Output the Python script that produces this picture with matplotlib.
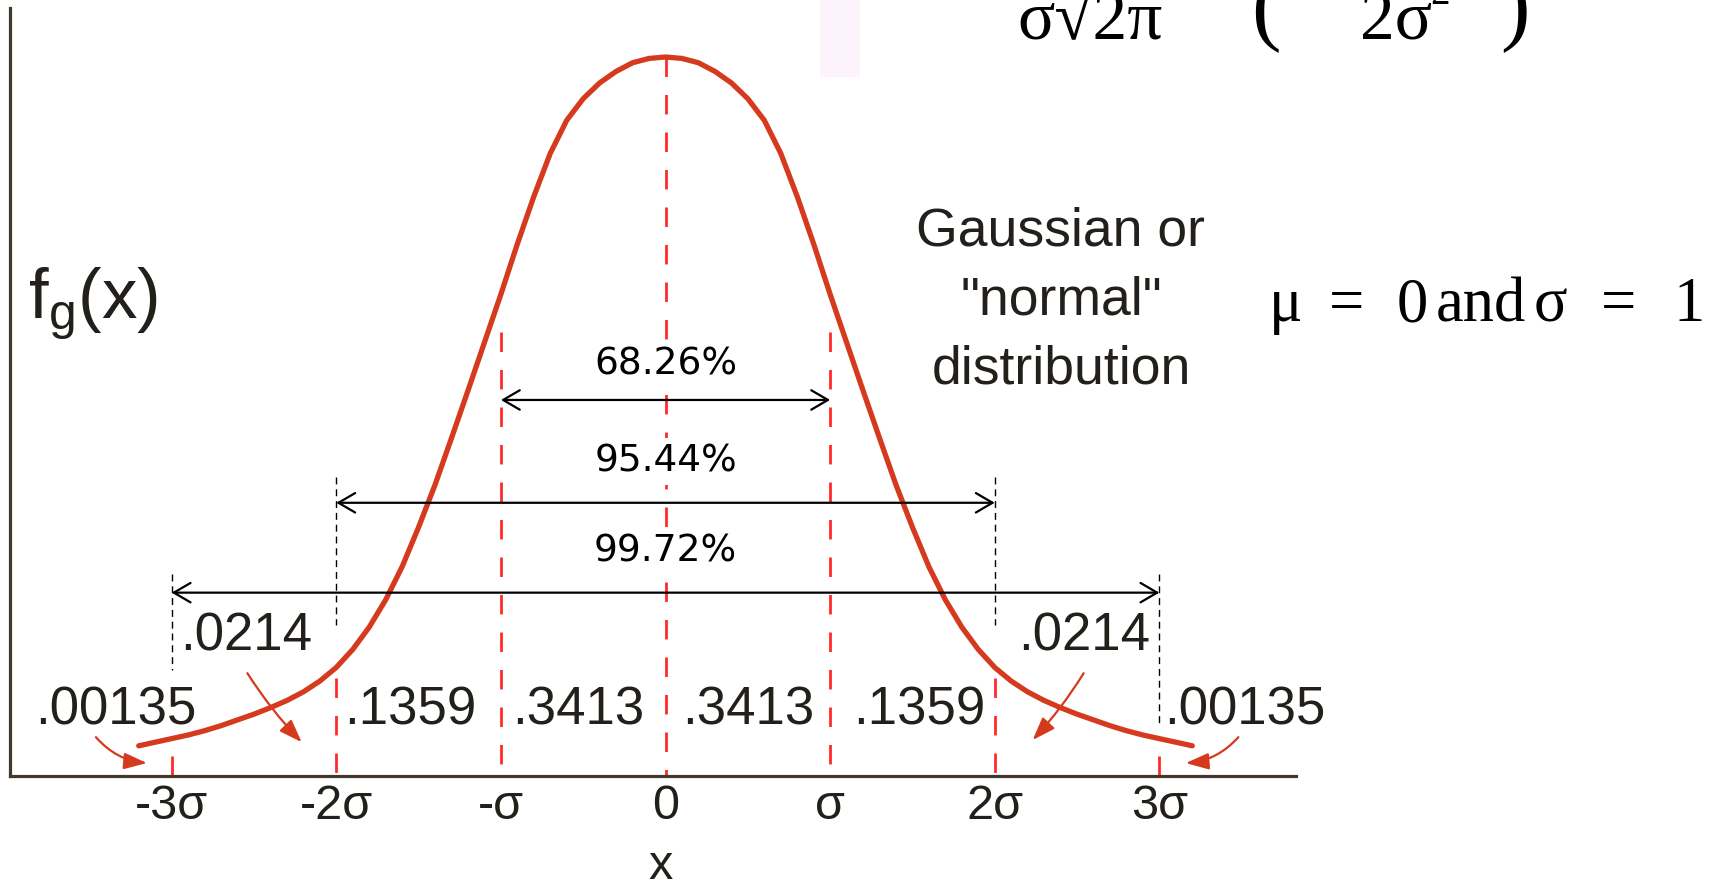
import matplotlib
matplotlib.use('Agg')
import matplotlib.pyplot as plt
from matplotlib.patches import FancyArrowPatch, Rectangle

# bell curve read in sigma units, height relative to the peak
curve_x = [-3.2, -3.1, -3.0, -2.9, -2.8, -2.7, -2.6, -2.5, -2.4, -2.3, -2.2, -2.1, -2.0, -1.9, -1.8, -1.7,
           -1.6, -1.5, -1.4, -1.3, -1.2, -1.1, -1.0, -0.9, -0.8, -0.7, -0.6, -0.5, -0.4, -0.3, -0.2, -0.1,
           0.0,
           0.1, 0.2, 0.3, 0.4, 0.5, 0.6, 0.7, 0.8, 0.9, 1.0, 1.1, 1.2, 1.3, 1.4, 1.5, 1.6,
           1.7, 1.8, 1.9, 2.0, 2.1, 2.2, 2.3, 2.4, 2.5, 2.6, 2.7, 2.8, 2.9, 3.0, 3.1, 3.2]
curve_y = [0.042, 0.047, 0.052, 0.057, 0.063, 0.070, 0.078, 0.086, 0.095, 0.105, 0.117, 0.132, 0.151, 0.176, 0.207, 0.245,
           0.291, 0.346, 0.405, 0.470, 0.536, 0.603, 0.670, 0.740, 0.806, 0.866, 0.912, 0.942, 0.964, 0.980, 0.992, 0.998,
           1.000,
           0.998, 0.992, 0.980, 0.964, 0.942, 0.912, 0.866, 0.806, 0.740, 0.670, 0.603, 0.536, 0.470, 0.405, 0.346, 0.291,
           0.245, 0.207, 0.176, 0.151, 0.132, 0.117, 0.105, 0.095, 0.086, 0.078, 0.070, 0.063, 0.057, 0.052, 0.047, 0.042]

tick_pos    = [-3, -2, -1, 0, 1, 2, 3]
tick_labels = ['-3σ', '-2σ', '-σ', '0', 'σ', '2σ', '3σ']
guide_top   = [0.028, 0.136, 0.617, 1.0, 0.617, 0.136, 0.028]

span_sigma  = [1, 2, 3]
span_labels = ['68.26%', '95.44%', '99.72%']

band_labels = ['.00135', '.1359', '.3413', '.3413', '.1359', '.00135']
tail_labels = ['.0214', '.0214']

#################################################

W, H   = 1714, 886
SANS   = ['Liberation Sans', 'DejaVu Sans']
SERIF  = ['Liberation Serif', 'DejaVu Serif']
CURVE  = '#d63a1e'
GUIDE  = '#ff2a2a'
INK    = '#231f1a'

plt.rcParams['mathtext.fontset'] = 'custom'
plt.rcParams['mathtext.rm'] = 'Liberation Sans'


def fpos(x, y):
    # pixel position (from top-left) -> figure fraction
    return x / W, 1 - y / H


fig = plt.figure(figsize=(W / 100, H / 100), dpi=100)
ax = fig.add_axes([10 / W, 110 / H, 1286 / W, 768 / H])
ax.set_xlim(-3.982, 3.830)
ax.set_ylim(0, 768 / 719)

for s in ('top', 'right'):
    ax.spines[s].set_visible(False)
for s in ('left', 'bottom'):
    ax.spines[s].set_color('#43382e')
    ax.spines[s].set_linewidth(2.3)

ax.set_yticks([])
ax.set_xticks(tick_pos, tick_labels)
for t in ax.get_xticklabels():
    t.set_family(SANS)
    t.set_fontsize(35)
    t.set_color(INK)
ax.tick_params(axis='x', length=0, pad=6)
ax.set_xlabel('x', fontsize=35, family=SANS, color=INK)
ax.xaxis.set_label_coords((661 - 10) / 1286, (776 - 879) / 768)
ax.xaxis.label.set_va('baseline')

# curve
ax.plot(curve_x, curve_y, color=CURVE, lw=3.8, solid_joinstyle='round', solid_capstyle='round', zorder=4)

# red guides from the curve down to the axis
for x, top in zip(tick_pos, guide_top):
    ax.plot([x, x], [top, 0], color=GUIDE, lw=2.0, ls=(0, (7, 6.5)), zorder=2)

# black extension lines for the wider spans
ext = [(-2, 0.416, 0.21), (2, 0.416, 0.21), (-3, 0.281, 0.147), (3, 0.281, 0.071)]
for x, y0, y1 in ext:
    ax.plot([x, x], [y0, y1], color='black', lw=1.0, ls=(0, (5, 3.5)), zorder=2)

# spans with percentages
arrow_y = [0.523, 0.380, 0.255]
text_y  = [0.558, 0.423, 0.298]
for s, lab, ya, yt in zip(span_sigma, span_labels, arrow_y, text_y):
    ax.add_patch(FancyArrowPatch((-s, ya), (s, ya), arrowstyle='<->,head_length=12,head_width=7',
                                 mutation_scale=1, lw=1.6, color='black', shrinkA=0, shrinkB=0, zorder=6))
    ax.text(0, yt, lab, ha='center', va='baseline', fontsize=27, family='DejaVu Sans', color='black', zorder=5,
            bbox=dict(facecolor='white', edgecolor='none', pad=4))

# band probabilities
band_x = [-3.34, -1.55, -0.53, 0.50, 1.54, 3.52]
for x, lab in zip(band_x, band_labels):
    ax.text(x, 0.071, lab, ha='center', va='baseline', fontsize=38, family=SANS, color=INK, zorder=5)
tail_x = [-2.55, 2.54]
for x, lab in zip(tail_x, tail_labels):
    ax.text(x, 0.175, lab, ha='center', va='baseline', fontsize=38, family=SANS, color=INK, zorder=5)

# small red pointers to the tails
pointers = [((-3.46, 0.054), (-3.15, 0.018), 0.2),
            ((-2.54, 0.143), (-2.21, 0.047), 0.05),
            ((2.54, 0.143), (2.23, 0.050), -0.05),
            ((3.48, 0.054), (3.16, 0.018), -0.2)]
for a, b, rad in pointers:
    ax.add_patch(FancyArrowPatch(a, b, arrowstyle='-|>,head_length=14,head_width=5',
                                 connectionstyle='arc3,rad=%g' % rad, mutation_scale=1,
                                 lw=1.6, color=CURVE, shrinkA=0, shrinkB=0, zorder=5))

# labels around the plot
fig.text(*fpos(28, 318), r'$\mathrm{f_g(x)}$', fontsize=51, ha='left', va='baseline', color=INK)

for txt, yb in zip(['Gaussian or', '"normal"', 'distribution'], [245, 315, 383]):
    fig.text(*fpos(1061, yb), txt, fontsize=38.5, family=SANS, ha='center', va='baseline', color=INK)

for txt, xc in zip(['μ', '=', '0', 'and', 'σ', '=', '1'], [1286, 1347, 1412, 1481, 1550, 1618, 1689]):
    fig.text(*fpos(xc, 321), txt, fontsize=45, family=SERIF, ha='center', va='baseline', color='black')

# lower edge of the density formula
fig.text(*fpos(1017, 39), 'σ√2π', fontsize=50, family=SERIF, ha='left', va='baseline', color='black')
fig.text(*fpos(1266, 34), '(', fontsize=64, family=SERIF, ha='center', va='baseline', color='black')
fig.text(*fpos(1360, 39), '2σ', fontsize=50, family=SERIF, ha='left', va='baseline', color='black')
fig.text(*fpos(1430, 4), '2', fontsize=28, family=SERIF, ha='left', va='baseline', color='black')
fig.text(*fpos(1515, 34), ')', fontsize=64, family=SERIF, ha='center', va='baseline', color='black')

fig.patches.append(Rectangle(fpos(820, 77), 40 / W, 77 / H, transform=fig.transFigure,
                             facecolor='#fdf3fc', edgecolor='none', zorder=0))

plt.savefig('out.png', dpi=100)
